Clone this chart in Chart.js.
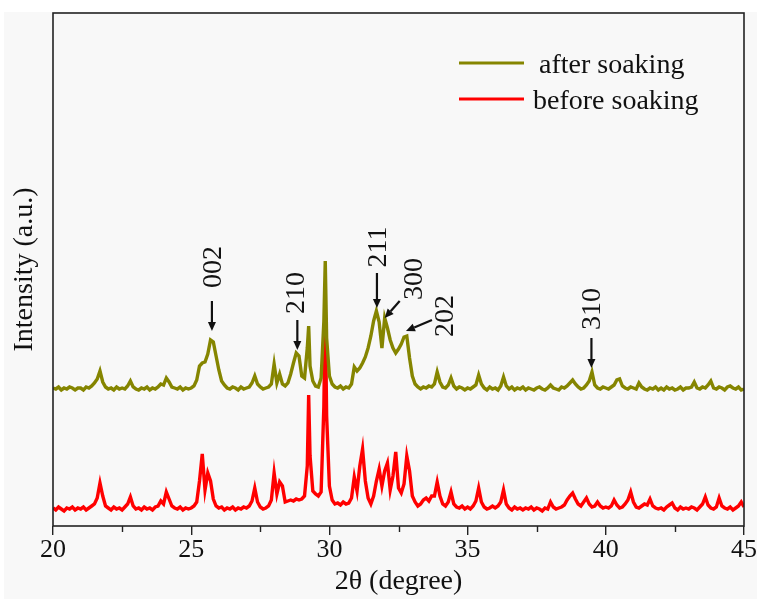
<!DOCTYPE html>
<html>
<head>
<meta charset="utf-8">
<script src="https://cdn.jsdelivr.net/npm/chart.js@4/dist/chart.umd.min.js"></script>
<style>
  html, body { margin: 0; padding: 0; background: #fff; }
  #wrap { width: 757px; height: 599px; }
</style>
</head>
<body>
<div id="wrap"><canvas id="xrdChart" width="757" height="599"></canvas></div>
<script>
// 2θ positions (degree)
const twoTheta = [
  20.0, 20.1, 20.2, 20.3, 20.4, 20.5, 20.6, 20.7, 20.8, 20.9,
  21.0, 21.1, 21.2, 21.3, 21.4, 21.5, 21.6, 21.7, 21.8, 21.9,
  22.0, 22.1, 22.2, 22.3, 22.4, 22.5, 22.6, 22.7, 22.8, 22.9,
  23.0, 23.1, 23.2, 23.3, 23.4, 23.5, 23.6, 23.7, 23.8, 23.9,
  24.0, 24.1, 24.2, 24.3, 24.4, 24.5, 24.6, 24.7, 24.8, 24.9,
  25.0, 25.1, 25.2, 25.3, 25.4, 25.5, 25.6, 25.7, 25.8, 25.9,
  26.0, 26.1, 26.2, 26.3, 26.4, 26.5, 26.6, 26.7, 26.8, 26.9,
  27.0, 27.1, 27.2, 27.3, 27.4, 27.5, 27.6, 27.7, 27.8, 27.9,
  28.0, 28.1, 28.2, 28.3, 28.4, 28.5, 28.6, 28.7, 28.8, 28.9,
  29.0, 29.1, 29.2, 29.25, 29.3, 29.4, 29.5, 29.6, 29.7, 29.8, 29.85, 29.9,
  30.0, 30.1, 30.2, 30.3, 30.4, 30.5, 30.6, 30.7, 30.8, 30.9,
  31.0, 31.1, 31.2, 31.3, 31.4, 31.5, 31.6, 31.7, 31.8, 31.9,
  32.0, 32.1, 32.2, 32.3, 32.4, 32.5, 32.6, 32.7, 32.8, 32.9,
  33.0, 33.1, 33.2, 33.3, 33.4, 33.5, 33.6, 33.7, 33.8, 33.9,
  34.0, 34.1, 34.2, 34.3, 34.4, 34.5, 34.6, 34.7, 34.8, 34.9,
  35.0, 35.1, 35.2, 35.3, 35.4, 35.5, 35.6, 35.7, 35.8, 35.9,
  36.0, 36.1, 36.2, 36.3, 36.4, 36.5, 36.6, 36.7, 36.8, 36.9,
  37.0, 37.1, 37.2, 37.3, 37.4, 37.5, 37.6, 37.7, 37.8, 37.9,
  38.0, 38.1, 38.2, 38.3, 38.4, 38.5, 38.6, 38.7, 38.8, 38.9,
  39.0, 39.1, 39.2, 39.3, 39.4, 39.5, 39.6, 39.7, 39.8, 39.9,
  40.0, 40.1, 40.2, 40.3, 40.4, 40.5, 40.6, 40.7, 40.8, 40.9,
  41.0, 41.1, 41.2, 41.3, 41.4, 41.5, 41.6, 41.7, 41.8, 41.9,
  42.0, 42.1, 42.2, 42.3, 42.4, 42.5, 42.6, 42.7, 42.8, 42.9,
  43.0, 43.1, 43.2, 43.3, 43.4, 43.5, 43.6, 43.7, 43.8, 43.9,
  44.0, 44.1, 44.2, 44.3, 44.4, 44.5, 44.6, 44.7, 44.8, 44.9,
  45.0
];

// intensity (a.u.), offset traces as in the figure
const afterSoaking = [
  138, 137, 139, 136, 138, 137, 139, 138, 136, 138,
  138, 136, 139, 138, 140, 143, 147, 155, 144, 139,
  137, 138, 136, 139, 137, 138, 137, 140, 145, 139,
  137, 136, 138, 137, 139, 136, 138, 137, 139, 142,
  141, 148, 144, 139, 138, 137, 139, 136, 138, 137,
  138, 140, 146, 160, 163, 164, 172, 186, 184, 170,
  156, 145, 141, 138, 137, 139, 138, 136, 139, 137,
  138, 139, 143, 150, 142, 139, 137, 138, 139, 142,
  162, 143, 152, 142, 140, 143, 152, 163, 173, 170,
  150, 148, 178, 200, 160, 145, 140, 139, 148, 205, 265, 188,
  150, 142, 139, 138, 140, 137, 139, 138, 142, 159,
  155, 158, 163, 169, 178, 190, 205, 215, 204, 178,
  208, 198, 186, 178, 173, 177, 182, 189, 190, 168,
  150, 142, 139, 137, 139, 138, 140, 139, 142, 154,
  144, 139, 138, 141, 148, 140, 137, 139, 138, 136,
  138, 137, 139, 141, 151, 142, 138, 136, 139, 137,
  138, 136, 140, 149, 140, 137, 139, 136, 138, 137,
  139, 136, 138, 137, 136, 138, 139, 137, 136, 138,
  141, 138, 137, 136, 139, 138, 140, 143, 146, 142,
  139, 137, 138, 141, 145, 154, 141, 138, 137, 139,
  138, 137, 139, 141, 146, 147, 140, 138, 137, 139,
  138, 137, 143, 139, 137, 136, 138, 137, 139, 136,
  138, 136, 139, 137, 138, 136, 137, 139, 136, 138,
  138, 139, 144, 138, 137, 139, 138, 141, 145, 138,
  137, 139, 138, 136, 139, 140, 138, 137, 139, 136,
  137
];

const beforeSoaking = [
  18, 16, 19, 17, 15, 18, 17, 19, 16, 18,
  17, 19, 16, 18, 20, 22, 28, 43, 30, 20,
  18, 16, 19, 17, 18, 16, 19, 22, 29, 20,
  17, 18, 16, 19, 17, 18, 16, 19, 20, 25,
  22, 34, 27, 20, 18, 17, 19, 16, 18, 17,
  18, 20, 24, 45, 72, 36, 53, 45, 27, 20,
  18, 19, 16, 18, 17, 19, 16, 18, 17, 19,
  18, 20, 25, 38, 24, 19, 17, 18, 20, 26,
  53, 32, 44, 40, 24, 25, 26, 25, 27, 26,
  27, 30, 60, 131, 70, 35, 32, 30, 34, 120, 221, 110,
  40, 26, 22, 23, 21, 24, 22, 23, 28, 49,
  35, 60, 77, 45, 28, 22, 30, 45, 57, 40,
  55, 63, 36, 50, 74, 38, 33, 42, 70, 55,
  30, 24, 20, 22, 26, 28, 25, 30, 30, 44,
  30, 22, 20, 24, 34, 22, 19, 18, 20, 17,
  19, 17, 20, 25, 38, 24, 19, 17, 18, 20,
  18, 20, 24, 36, 22, 18, 16, 19, 17, 18,
  16, 18, 17, 19, 16, 18, 17, 15, 18, 17,
  24, 19, 17, 18, 19, 21, 26, 30, 33, 27,
  22, 20, 24, 28, 22, 19, 20, 24, 20, 18,
  19, 18, 20, 26, 21, 18, 19, 22, 26, 34,
  24, 19, 18, 20, 22, 21, 27, 20, 18, 17,
  18, 16, 19, 21, 23, 18, 16, 19, 17, 18,
  17, 19, 18, 16, 19, 22, 29, 21, 18, 17,
  19, 28, 20, 18, 17, 19, 16, 18, 20, 24,
  19
];

const minorTicks = [22.5, 27.5, 32.5, 37.5, 42.5];

// indexed peaks: label, 2θ, intensity at arrow tip
const peakLabels = ['002', '210', '211', '300', '202', '310'];
const peakAngles = [25.75, 28.84, 31.72, 32.0, 32.77, 39.48];
const peakTips = [195, 176, 218, 208, 195, 158];

const serif = "'Liberation Serif', 'Times New Roman', serif";

// arrow tail and label offsets (px, relative to the tip)
const arrowTail = [[0, -30], [0, -30], [0, -35], [15, -17], [26, -11], [0, -30]];
const labelPos = [[1, -64], [-2, -57], [1, -61], [29, -39], [39, -15], [0, -59]];

const bgPlugin = {
  id: 'bg',
  beforeDraw(chart) {
    const ctx = chart.ctx;
    ctx.save();
    ctx.fillStyle = '#ffffff';
    ctx.fillRect(0, 0, chart.width, chart.height);
    ctx.fillStyle = '#f8f8f8';
    ctx.fillRect(4, 12, chart.width - 4, chart.height - 12);
    ctx.restore();
  }
};

function drawArrow(ctx, x1, y1, x2, y2) {
  const ang = Math.atan2(y2 - y1, x2 - x1);
  const head = 9, half = 4;
  ctx.beginPath();
  ctx.moveTo(x1, y1);
  ctx.lineTo(x2 - Math.cos(ang) * head, y2 - Math.sin(ang) * head);
  ctx.stroke();
  ctx.beginPath();
  ctx.moveTo(x2, y2);
  ctx.lineTo(x2 - Math.cos(ang) * head - Math.sin(ang) * half, y2 - Math.sin(ang) * head + Math.cos(ang) * half);
  ctx.lineTo(x2 - Math.cos(ang) * head + Math.sin(ang) * half, y2 - Math.sin(ang) * head - Math.cos(ang) * half);
  ctx.closePath();
  ctx.fill();
}

const decorPlugin = {
  id: 'decor',
  afterDraw(chart) {
    const ctx = chart.ctx;
    const a = chart.chartArea;
    const xs = chart.scales.x, ys = chart.scales.y;
    ctx.save();

    // frame
    ctx.strokeStyle = '#222';
    ctx.lineWidth = 1.6;
    ctx.strokeRect(a.left, a.top, a.right - a.left, a.bottom - a.top);

    // minor ticks
    ctx.lineWidth = 1.4;
    minorTicks.forEach(v => {
      const px = Math.round(xs.getPixelForValue(v)) + 0.5;
      ctx.beginPath();
      ctx.moveTo(px, a.bottom);
      ctx.lineTo(px, a.bottom + 6);
      ctx.stroke();
    });

    // legend
    const ds = chart.data.datasets;
    const legY = [63, 99];
    const legTx = [539, 533];
    ctx.font = '28px ' + serif;
    ctx.textBaseline = 'middle';
    ctx.textAlign = 'left';
    ds.forEach((d, i) => {
      ctx.strokeStyle = d.borderColor;
      ctx.lineWidth = 3;
      ctx.beginPath();
      ctx.moveTo(459, legY[i]);
      ctx.lineTo(524, legY[i]);
      ctx.stroke();
      ctx.fillStyle = '#111';
      ctx.fillText(d.label, legTx[i], legY[i] + 3);
    });

    // peak annotations
    ctx.strokeStyle = '#111';
    ctx.fillStyle = '#111';
    ctx.lineWidth = 2.2;
    ctx.font = '28px ' + serif;
    ctx.textAlign = 'center';
    ctx.textBaseline = 'middle';
    peakLabels.forEach((lab, i) => {
      const tx = xs.getPixelForValue(peakAngles[i]);
      const ty = ys.getPixelForValue(peakTips[i]);
      drawArrow(ctx, tx + arrowTail[i][0], ty + arrowTail[i][1], tx, ty);
      ctx.save();
      ctx.translate(tx + labelPos[i][0], ty + labelPos[i][1]);
      ctx.rotate(-Math.PI / 2);
      ctx.fillText(lab, 0, 1);
      ctx.restore();
    });
    ctx.restore();
  }
};

const config = {
  type: 'line',
  data: {
    datasets: [
      {
        label: 'after soaking',
        data: twoTheta.map((t, i) => ({ x: t, y: afterSoaking[i] })),
        borderColor: '#858500',
        borderWidth: 3.4,
        pointRadius: 0,
        tension: 0,
        fill: false
      },
      {
        label: 'before soaking',
        data: twoTheta.map((t, i) => ({ x: t, y: beforeSoaking[i] })),
        borderColor: '#ff0000',
        borderWidth: 3.4,
        pointRadius: 0,
        tension: 0,
        fill: false
      }
    ]
  },
  options: {
    responsive: false,
    maintainAspectRatio: false,
    devicePixelRatio: 1,
    animation: false,
    layout: { padding: { top: 13, right: 11, left: 0, bottom: 0 } },
    plugins: {
      legend: { display: false },
      tooltip: { enabled: false }
    },
    scales: {
      x: {
        type: 'linear',
        min: 20,
        max: 45,
        afterFit(s) { s.height = 73; },
        border: { display: false },
        grid: {
          drawOnChartArea: false,
          drawTicks: true,
          tickLength: 9,
          color: '#222',
          lineWidth: 1.4
        },
        ticks: {
          stepSize: 5,
          padding: 0,
          color: '#111',
          font: { family: serif, size: 26 },
          maxRotation: 0
        },
        title: {
          display: true,
          text: '2θ (degree)',
          color: '#111',
          font: { family: serif, size: 28 },
          padding: { top: 0, bottom: 1 }
        }
      },
      y: {
        min: 0,
        max: 513,
        afterFit(s) { s.width = 53; },
        border: { display: false },
        grid: { display: false },
        ticks: { display: false },
        title: {
          display: true,
          text: 'Intensity (a.u.)',
          color: '#111',
          font: { family: serif, size: 28 },
          padding: { top: 8, bottom: 0 }
        }
      }
    }
  },
  plugins: [bgPlugin, decorPlugin]
};

const xrdChart = new Chart(document.getElementById('xrdChart'), config);
</script>
</body>
</html>
